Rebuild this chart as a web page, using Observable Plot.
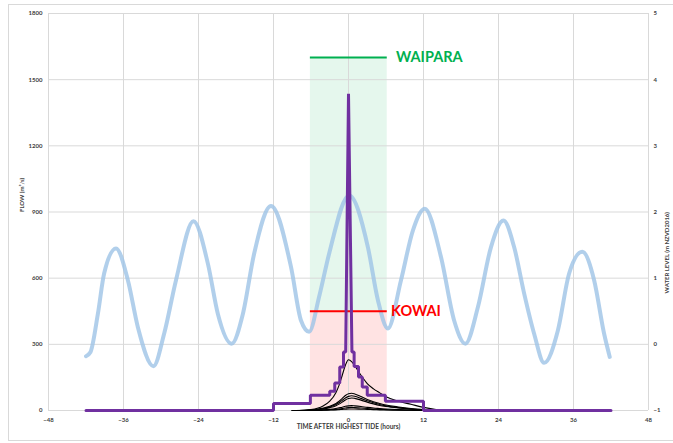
<!DOCTYPE html>
<html>
<head>
<meta charset="utf-8">
<script src="https://cdn.jsdelivr.net/npm/d3@7"></script>
<script src="https://cdn.jsdelivr.net/npm/@observablehq/plot@0.6"></script>
<style>
  body { margin: 0; background: #fff; }
  #wrap { position: relative; width: 673px; height: 443px; }
  #border { position: absolute; left: 8px; top: 4px; width: 680px; height: 435px; border: 1px solid #D9D9D9; pointer-events: none; }
</style>
</head>
<body>
<div id="wrap"><div id="border"></div></div>
<script>
// ---- data ----
const xTicks = [-48, -36, -24, -12, 0, 12, 24, 36, 48];
const flowTicks = [0, 300, 600, 900, 1200, 1500, 1800];
const levelTicks = [-1, 0, 1, 2, 3, 4, 5];

// tide (water level, m NZVD2016)
const tideHours = [-42.0, -41.3, -40.1, -39.1, -37.2, -35.3, -33.7, -31.2, -29.5, -27.6, -24.8, -22.5, -20.9, -18.7, -16.9, -15.1, -12.4, -9.2, -7.6, -6.3, -4.7, -3.1, 0.1, 3.1, 4.7, 6.3, 8.4, 10.3, 12.2, 14.8, 16.9, 18.7, 20.7, 22.8, 24.8, 26.5, 28.1, 29.7, 31.3, 33.5, 35.3, 37.4, 39.3, 40.9, 41.8];
const tideLevel = [-0.18, -0.12, 0.46, 1.07, 1.45, 0.97, 0.26, -0.33, 0.16, 0.97, 1.86, 1.22, 0.46, 0.01, 0.46, 1.37, 2.09, 1.17, 0.36, 0.19, 0.72, 1.37, 2.25, 1.47, 0.67, 0.24, 0.97, 1.72, 2.05, 1.32, 0.36, 0.01, 0.56, 1.47, 1.87, 1.47, 0.77, 0.16, -0.28, 0.21, 1.07, 1.40, 0.97, 0.16, -0.19];

// stepped design hydrograph (purple)
const stepHours = [-42, -12, -12, -6.1, -6.1, -3, -3, -2.2, -2.2, -1.4, -1.4, -0.8, -0.8, -0.45, 0, 0.55, 0.9, 0.9, 1.6, 1.6, 2.2, 2.2, 3, 3, 5.9, 5.9, 12, 12, 42];
const stepFlow  = [0, 0, 32, 32, 69, 69, 87, 87, 125, 125, 197, 197, 265, 265, 1436, 265, 265, 200, 200, 152, 152, 107, 107, 69, 69, 42, 42, 0, 0];

// black hydrographs
const curveHours = [-9, -7, -6, -5, -4, -3, -2, -1.5, -1, -0.5, 0, 0.5, 1, 2, 3, 4, 5, 6, 8, 10, 12, 14, 15];
const curveA = [0, 1, 4, 10, 22, 42, 82, 115, 160, 205, 230, 222, 203, 160, 122, 98, 80, 62, 42, 28, 14, 4, 0];
const curveB = [0, 1, 3, 6, 11, 19, 32, 42, 55, 68, 76, 78, 75, 63, 50, 40, 32, 25, 16, 9, 4, 1, 0];
const curveC = [0, 1, 2, 5, 9, 16, 27, 35, 46, 57, 64, 67, 65, 55, 44, 35, 27, 21, 13, 7, 3, 1, 0];
const curveD = [0, 0, 2, 4, 7, 13, 22, 29, 38, 48, 54, 57, 55, 47, 38, 30, 23, 18, 11, 6, 2, 0, 0];
const curveE = [0, 0, 1, 2, 3, 5, 9, 12, 15, 19, 21, 22, 21, 18, 14, 11, 9, 7, 4, 2, 1, 0, 0];
const curveF = [0, 0, 0, 1, 2, 3, 5, 7, 9, 11, 13, 14, 13, 11, 9, 7, 5, 4, 2, 1, 0, 0, 0];
const curveG = [0, 0, 0, 0, 1, 2, 3, 4, 5, 6, 7, 7, 7, 6, 5, 4, 3, 2, 1, 1, 0, 0, 0];
const curves = [curveA, curveB, curveC, curveD, curveE, curveF, curveG];

// threshold zones
const zoneNames = ["WAIPARA", "KOWAI"];
const zoneFlow = [1600, 450];
const zoneStart = [-6.1, -6.1];
const zoneEnd = [6.2, 6.2];
const zoneLabelHour = [7.6, 6.8];
const zoneColors = ["#00B050", "#FF0000"];

// ---- build tables ----
const tide = tideHours.map((h, i) => ({h, level: tideLevel[i]}));
const steps = stepHours.map((h, i) => ({h, q: stepFlow[i]}));
const blacks = curves.flatMap((c, k) => curveHours.map((h, i) => ({h, q: c[i], k})));
const zones = zoneNames.map((name, i) => ({name, q: zoneFlow[i], x1: zoneStart[i], x2: zoneEnd[i], lx: zoneLabelHour[i], color: zoneColors[i]}));

const toFlow = lv => (lv + 1) * 300;   // secondary axis mapping
const fromFlow = q => q / 300 - 1;

const font = "Lato, 'Open Sans', sans-serif";
const axisColor = "#404040";

const chart = Plot.plot({
  width: 673,
  height: 443,
  marginLeft: 48,
  marginRight: 25,
  marginTop: 13,
  marginBottom: 33,
  x: {domain: [-48, 48]},
  y: {domain: [0, 1800]},
  style: {fontFamily: font, background: "transparent", overflow: "visible"},
  marks: [
    // shaded zones
    Plot.rect([zones[0]], {x1: "x1", x2: "x2", y1: zoneFlow[1], y2: "q", fill: "#00B050", fillOpacity: 0.1}),
    Plot.rect([zones[1]], {x1: "x1", x2: "x2", y1: 0, y2: "q", fill: "#FF0000", fillOpacity: 0.11}),
    // grid
    Plot.gridX(xTicks, {stroke: "#D9D9D9", strokeOpacity: 1, strokeWidth: 1}),
    Plot.gridY(flowTicks, {stroke: "#D9D9D9", strokeOpacity: 1, strokeWidth: 1}),
    // axes
    Plot.axisX(xTicks, {tickSize: 0, tickPadding: 7, fontSize: 6, fontWeight: "bold", fill: axisColor, label: null, tickFormat: "d"}),
    Plot.axisY(flowTicks, {tickSize: 0, tickPadding: 6, fontSize: 6, fontWeight: "bold", fill: axisColor, label: null, tickFormat: "d"}),
    Plot.axisY(levelTicks.map(toFlow), {anchor: "right", tickSize: 0, tickPadding: 5, fontSize: 6, fontWeight: "bold", fill: axisColor, label: null, tickFormat: q => d3.format("d")(Math.round(fromFlow(q)))}),
    // tide
    Plot.line(tide, {x: "h", y: d => toFlow(d.level), stroke: "#9DC3E6", strokeWidth: 4, strokeOpacity: 0.8, curve: "monotone-x"}),
    // black hydrographs
    Plot.line(blacks, {x: "h", y: "q", z: "k", stroke: "#000", strokeWidth: 1.1, curve: "monotone-x"}),
    // threshold lines
    Plot.ruleY(zones, {x1: "x1", x2: "x2", y: "q", stroke: "color", strokeWidth: 2}),
    // purple stepped hydrograph
    Plot.line(steps, {x: "h", y: "q", stroke: "#7030A0", strokeWidth: 3, strokeLinejoin: "miter"}),
    // zone labels
    Plot.text(zones, {x: "lx", y: "q", text: "name", fill: "color", fontSize: 14.5, fontWeight: "bold", textAnchor: "start"}),
    // axis titles
    Plot.text(["FLOW (m³/s)"], {frameAnchor: "left", dx: -26, rotate: -90, fontSize: 6, fontWeight: "bold", fill: axisColor}),
    Plot.text(["WATER LEVEL (m NZVD2016)"], {frameAnchor: "right", dx: 19, rotate: -90, fontSize: 6, fontWeight: "bold", fill: axisColor}),
    Plot.text(["TIME AFTER HIGHEST TIDE (hours)"], {frameAnchor: "bottom", dy: 18, fontSize: 6.5, fontWeight: "bold", fill: axisColor})
  ]
});
document.getElementById("wrap").prepend(chart);
</script>
</body>
</html>
